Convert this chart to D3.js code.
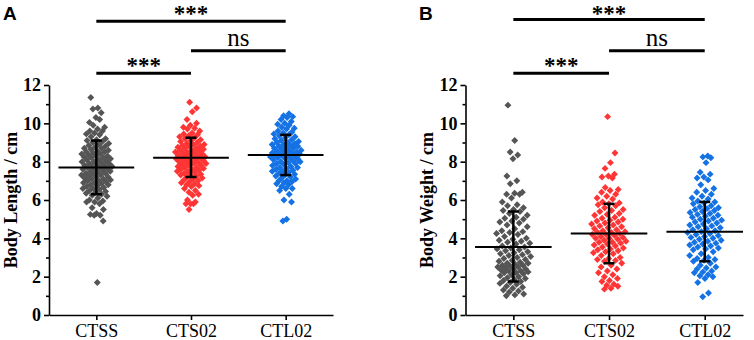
<!DOCTYPE html>
<html><head><meta charset="utf-8">
<script src="https://cdn.jsdelivr.net/npm/d3@7"></script>
<style>body{margin:0;background:#fff}svg{display:block}</style>
</head><body>
<script>
const categories = ["CTSS", "CTS02", "CTL02"];
const colors = ["#555555", "#FF3535", "#1472E4"];
const yTicks = [0, 2, 4, 6, 8, 10, 12];
const yMinorTicks = [1, 3, 5, 7, 9, 11];

// Panel A: Body Length
const lengthCTSS = [11.35,10.8,10.75,10.55,10.3,10.05,10.2,9.9,9.8,9.7,9.6,9.6,9.5,9.45,9.4,9.3,9.2,9.15,9.1,9.05,9.0,8.95,8.9,8.85,8.8,8.75,8.7,8.7,8.65,8.6,8.55,8.5,8.5,8.45,8.4,8.4,8.35,8.3,8.3,8.25,8.2,8.2,8.15,8.1,8.1,8.05,8.0,8.0,7.95,7.9,7.9,7.85,7.8,7.8,7.75,7.75,7.7,7.7,7.65,7.6,7.6,7.55,7.5,7.5,7.45,7.4,7.4,7.35,7.3,7.3,7.25,7.2,7.2,7.15,7.1,7.1,7.05,7.0,7.0,6.95,6.9,6.9,6.85,6.8,6.8,6.75,6.7,6.65,6.6,6.6,6.55,6.5,6.45,6.4,6.35,6.3,6.25,6.2,6.1,6.0,5.95,5.9,5.9,5.8,5.6,5.5,5.3,5.25,5.2,5.2,4.9,1.7];
const lengthCTS02 = [11.1,10.8,10.6,10.2,10.0,9.9,9.8,9.75,9.7,9.6,9.5,9.45,9.4,9.35,9.3,9.25,9.2,9.15,9.1,9.05,9.0,8.95,8.9,8.9,8.85,8.8,8.8,8.75,8.7,8.7,8.65,8.6,8.6,8.55,8.5,8.5,8.45,8.45,8.4,8.4,8.35,8.3,8.3,8.25,8.25,8.2,8.2,8.15,8.15,8.1,8.1,8.05,8.0,8.0,7.95,7.95,7.9,7.9,7.85,7.8,7.8,7.75,7.7,7.7,7.65,7.6,7.6,7.55,7.5,7.5,7.45,7.4,7.35,7.3,7.3,7.25,7.2,7.15,7.1,7.05,7.0,6.95,6.9,6.85,6.8,6.75,6.7,6.6,6.5,6.4,6.3,6.25,6.0,5.9,5.8,5.8,5.8,5.5];
const lengthCTL02 = [10.5,10.4,10.35,10.3,10.2,10.1,10.0,9.95,9.9,9.8,9.75,9.7,9.6,9.55,9.5,9.45,9.4,9.35,9.3,9.25,9.2,9.15,9.1,9.05,9.0,9.0,8.95,8.9,8.9,8.85,8.8,8.8,8.75,8.7,8.7,8.65,8.6,8.6,8.55,8.5,8.5,8.45,8.45,8.4,8.4,8.35,8.35,8.3,8.3,8.25,8.2,8.2,8.15,8.15,8.1,8.05,8.0,8.0,7.95,7.9,7.9,7.85,7.8,7.75,7.7,7.7,7.65,7.6,7.55,7.5,7.5,7.45,7.4,7.35,7.3,7.25,7.2,7.15,7.1,7.0,7.0,6.95,6.9,6.85,6.8,6.7,6.6,6.6,6.5,6.3,6.0,5.9,5.0,4.9];
const lengthMean = [7.7, 8.2, 8.35];
const lengthLow = [6.3, 7.2, 7.3];
const lengthHigh = [9.1, 9.25, 9.4];

// Panel B: Body Weight
const weightCTSS = [10.95,9.1,8.5,8.35,8.15,7.25,7.0,6.85,6.4,6.35,6.3,6.3,6.1,5.9,5.75,5.7,5.6,5.5,5.45,5.4,5.3,5.2,5.1,5.05,5.0,4.9,4.85,4.8,4.7,4.6,4.5,4.4,4.35,4.3,4.25,4.2,4.1,4.0,3.95,3.9,3.85,3.8,3.75,3.7,3.6,3.55,3.5,3.45,3.4,3.35,3.3,3.25,3.2,3.15,3.1,3.05,3.0,2.95,2.9,2.85,2.8,2.75,2.7,2.7,2.65,2.6,2.6,2.55,2.5,2.5,2.45,2.4,2.4,2.35,2.3,2.3,2.25,2.2,2.2,2.15,2.1,2.05,2.0,1.95,1.9,1.85,1.8,1.75,1.7,1.65,1.6,1.5,1.45,1.4,1.3,1.25,1.2,1.1,1.05,1.0];
const weightCTS02 = [10.35,8.45,7.95,7.65,7.35,7.25,7.2,7.15,6.65,6.55,6.5,6.4,6.3,6.2,6.1,6.05,5.9,5.85,5.8,5.75,5.7,5.6,5.5,5.45,5.4,5.3,5.25,5.2,5.1,5.05,5.0,4.95,4.9,4.85,4.8,4.75,4.7,4.65,4.6,4.55,4.5,4.45,4.4,4.35,4.3,4.3,4.25,4.2,4.2,4.15,4.1,4.05,4.0,4.0,3.95,3.9,3.85,3.8,3.8,3.75,3.7,3.65,3.6,3.55,3.5,3.45,3.4,3.35,3.3,3.25,3.2,3.1,3.0,2.95,2.9,2.85,2.8,2.7,2.6,2.5,2.4,2.3,2.2,2.1,2.0,1.9,1.8,1.75,1.6,1.55,1.5,1.4,1.35];
const weightCTL02 = [8.3,8.25,8.2,7.95,7.45,7.35,7.2,7.15,7.05,6.8,6.6,6.5,6.4,6.3,6.2,6.1,6.05,5.95,5.9,5.85,5.8,5.7,5.65,5.6,5.55,5.5,5.45,5.4,5.35,5.3,5.25,5.2,5.15,5.1,5.05,5.0,4.95,4.9,4.85,4.8,4.75,4.7,4.65,4.6,4.55,4.5,4.45,4.4,4.35,4.3,4.25,4.2,4.15,4.1,4.05,4.0,3.95,3.9,3.85,3.8,3.75,3.7,3.65,3.6,3.55,3.5,3.45,3.4,3.3,3.2,3.1,3.0,2.95,2.9,2.85,2.8,2.7,2.6,2.5,2.45,2.4,2.3,2.25,2.2,2.1,2.05,2.0,1.9,1.7,1.15,0.95];
const weightMean = [3.55, 4.25, 4.35];
const weightLow = [1.75, 2.7, 2.8];
const weightHigh = [5.4, 5.8, 5.9];

// Significance comparisons [from, to, label]
const sigFrom = [0, 1, 0];
const sigTo = [2, 2, 1];
const sigLabel = ["***", "ns", "***"];

const panels = [
  {letter: "A", title: "Body Length / cm", groups: [lengthCTSS, lengthCTS02, lengthCTL02],
   mean: lengthMean, low: lengthLow, high: lengthHigh,
   left: 49, right: 333, xmax: 3.5, letterX: 3, titleX: 16.5, jw: 16, sigY: [21.3, 50.7, 73.3]},
  {letter: "B", title: "Body Weight / cm", groups: [weightCTSS, weightCTS02, weightCTL02],
   mean: weightMean, low: weightLow, high: weightHigh,
   left: 465.5, right: 743, xmax: 3.4, letterX: 419, titleX: 433, jw: 18, sigY: [19.5, 50.7, 73.3]}
];

const svg = d3.select("body").append("svg").attr("width", 754).attr("height", 340);
svg.append("rect").attr("width", 754).attr("height", 340).attr("fill", "#fff");

const serif = "'Liberation Serif','Times New Roman',serif";
const diamond = d3.symbol().type(d3.symbolSquare).size(24)();

panels.forEach(p => {
  const x = d3.scaleLinear().domain([0.5, p.xmax]).range([p.left, p.right]);
  const y = d3.scaleLinear().domain([0, 12]).range([315, 85]);
  const g = svg.append("g");

  // points
  p.groups.forEach((vals, gi) => {
    const sd = (p.high[gi] - p.low[gi]) / 2;
    g.append("g").selectAll("path").data(vals).join("path")
      .attr("d", diamond)
      .attr("fill", colors[gi])
      .attr("transform", (v, i) => {
        const z = (v - p.mean[gi]) / sd;
        const f = ((i * 0.6180339887 + gi * 0.37) % 1) * 2 - 1;
        const w = p.jw * (0.3 + 0.7 * Math.exp(-z * z / 2.5));
        return `translate(${x(gi + 1) + f * w},${y(v)}) rotate(45)`;
      });
  });

  // mean lines
  g.append("g").selectAll("line").data(p.mean).join("line")
    .attr("x1", (m, i) => x(i + 1 - 0.4)).attr("x2", (m, i) => x(i + 1 + 0.4))
    .attr("y1", m => y(m)).attr("y2", m => y(m))
    .attr("stroke", "#000").attr("stroke-width", 2);

  // error bars
  const eb = g.append("g").attr("stroke", "#000").attr("stroke-width", 2.5);
  categories.forEach((c, i) => {
    const cx = x(i + 1);
    eb.append("line").attr("x1", cx).attr("x2", cx).attr("y1", y(p.low[i])).attr("y2", y(p.high[i]));
    eb.append("line").attr("x1", cx - 5.5).attr("x2", cx + 5.5).attr("y1", y(p.low[i])).attr("y2", y(p.low[i]));
    eb.append("line").attr("x1", cx - 5.5).attr("x2", cx + 5.5).attr("y1", y(p.high[i])).attr("y2", y(p.high[i]));
  });

  // axes
  const ya = g.append("g").attr("transform", `translate(${p.left},0)`)
    .call(d3.axisLeft(y).tickValues(yTicks).tickSize(5).tickSizeOuter(0).tickPadding(3));
  ya.selectAll("text").attr("font-family", serif).attr("font-weight", "bold").attr("font-size", 18).attr("fill", "#000");
  const ym = g.append("g").attr("transform", `translate(${p.left},0)`)
    .call(d3.axisLeft(y).tickValues(yMinorTicks).tickSize(3).tickFormat(""));
  ym.select(".domain").remove();

  const xa = g.append("g").attr("transform", `translate(0,315)`)
    .call(d3.axisBottom(x).tickValues([1, 2, 3]).tickFormat((d) => categories[d - 1]).tickSize(5).tickSizeOuter(0));
  xa.selectAll("text").attr("font-family", serif).attr("font-size", 18).attr("fill", "#000")
    .attr("dy", null).attr("y", 22);
  g.selectAll(".domain, .tick line").attr("stroke", "#000").attr("stroke-width", 1.6);

  // y title
  g.append("text").attr("transform", `translate(${p.titleX},200) rotate(-90)`)
    .attr("text-anchor", "middle").attr("font-family", serif).attr("font-weight", "bold")
    .attr("font-size", 18).text(p.title);

  // panel letter
  g.append("text").attr("x", p.letterX).attr("y", 20)
    .attr("font-family", "'Liberation Sans',Arial,sans-serif").attr("font-weight", "bold")
    .attr("font-size", 19).text(p.letter);

  // significance bars
  sigLabel.forEach((lab, k) => {
    const x1 = x(sigFrom[k] + 1), x2 = x(sigTo[k] + 1), yy = p.sigY[k];
    g.append("line").attr("x1", x1).attr("x2", x2).attr("y1", yy).attr("y2", yy)
      .attr("stroke", "#000").attr("stroke-width", 3);
    const isNs = lab === "ns";
    g.append("text").attr("x", (x1 + x2) / 2).attr("y", isNs ? yy - 5 : Math.max(yy, 21))
      .attr("text-anchor", "middle").attr("font-family", serif)
      .attr("font-weight", isNs ? "normal" : "bold")
      .attr("font-size", isNs ? 25 : 23).text(lab);
  });
});
</script>
</body></html>
